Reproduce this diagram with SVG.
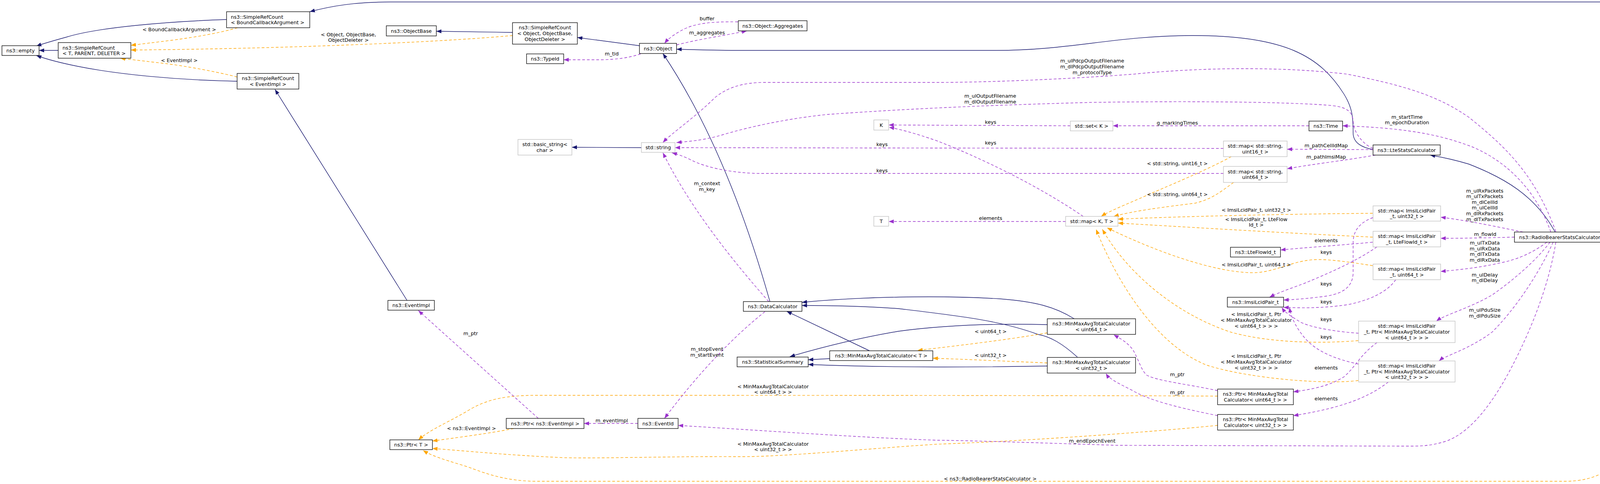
<svg xmlns="http://www.w3.org/2000/svg" width="4703" height="1239" viewBox="0 0 4703 1239">
<defs>
<style>
text{font-family:"DejaVu Sans","Liberation Sans",sans-serif;font-size:12.8px;fill:#000}
.c{text-anchor:middle}
.n rect{fill:#fff;stroke:#000;stroke-width:1.3}
.g rect{fill:#fff;stroke:#bfbfbf;stroke-width:1.3}
.inh{fill:none;stroke:#191970;stroke-width:1.4}
.use{fill:none;stroke:#9a32cd;stroke-width:1.4;stroke-dasharray:7,5}
.tpl{fill:none;stroke:#ffa500;stroke-width:1.4;stroke-dasharray:7,5}
.inh{marker-end:url(#ai)}
.use{marker-end:url(#au)}
.tpl{marker-end:url(#at)}
</style>
<marker id="ai" viewBox="0 0 13 10" refX="13" refY="5" markerWidth="13" markerHeight="10" markerUnits="userSpaceOnUse" orient="auto"><path d="M0,0L13,5L0,10z" fill="#191970"/></marker>
<marker id="au" viewBox="0 0 13 10" refX="13" refY="5" markerWidth="13" markerHeight="10" markerUnits="userSpaceOnUse" orient="auto"><path d="M0,0L13,5L0,10z" fill="#9a32cd"/></marker>
<marker id="at" viewBox="0 0 13 10" refX="13" refY="5" markerWidth="13" markerHeight="10" markerUnits="userSpaceOnUse" orient="auto"><path d="M0,0L13,5L0,10z" fill="#ffa500"/></marker>
</defs>
<rect width="4703" height="1239" fill="#fff"/>
<g id="connectors">
<!-- inheritance -->
<path class="inh" d="M149,129L100,129"/>
<path class="inh" d="M580,50C430,55 250,70 170,95C130,106 110,112 93,118"/>
<path class="inh" d="M607,208C450,205 300,190 200,170C150,160 115,150 93,142"/>
<path class="inh" d="M4583,299C4560,180 4510,5 4305,5L1000,5C910,5 850,15 793,30"/>
<path class="inh" d="M1312,83L1117,80"/>
<path class="inh" d="M1637,117L1478,96"/>
<path class="inh" d="M1642,378L1464,377"/>
<path class="inh" d="M3515,383C3490,378 3464,368 3464,340C3464,300 3462,275 3440,240C3380,145 3290,90 3050,91C2850,92 2740,129 2550,129L1900,129C1820,129 1780,127 1732,126"/>
<path class="inh" d="M3981,594C3930,500 3850,455 3760,420C3720,408 3690,402 3661,397"/>
<path class="inh" d="M1042,769L704,229"/>
<path class="inh" d="M1971,772Q1860,380 1697,137"/>
<path class="inh" d="M2124,918L2069,921"/>
<path class="inh" d="M2226,898L2014,797"/>
<path class="inh" d="M2750,816C2700,785 2650,772 2560,765C2400,755 2200,760 2053,774"/>
<path class="inh" d="M2758,914C2720,880 2690,862 2657,856C2560,820 2450,808 2300,790C2200,783 2120,782 2053,782"/>
<path class="inh" d="M2681,831C2600,829 2450,828 2300,848C2200,865 2100,890 2022,913"/>
<path class="inh" d="M2681,937C2500,940 2300,942 2069,933"/>
<!-- template -->
<path class="tpl" d="M608,71C560,85 500,95 440,103C400,108 360,113 335,116"/>
<path class="tpl" d="M607,197C540,180 450,165 400,160C360,155 330,152 308,149"/>
<path class="tpl" d="M1312,91C1100,110 700,125 335,128"/>
<path class="tpl" d="M2681,852C2580,870 2450,885 2349,897"/>
<path class="tpl" d="M2681,929C2580,925 2480,920 2388,917"/>
<path class="tpl" d="M3152,401C3080,440 2980,480 2936,500C2880,525 2840,540 2819,554"/>
<path class="tpl" d="M3158,467C3120,495 3100,510 3060,520C2980,530 2900,540 2851,554"/>
<path class="tpl" d="M3514,546C3300,548 3050,553 2862,561"/>
<path class="tpl" d="M3514,607C3300,597 3050,582 2862,571"/>
<path class="tpl" d="M3514,680C3460,672 3400,662 3360,665C3300,670 3260,700 3200,698C3100,695 2950,640 2834,583"/>
<path class="tpl" d="M3477,872C3380,880 3250,878 3150,850C3000,800 2880,690 2822,587"/>
<path class="tpl" d="M3477,974C3400,985 3200,970 3090,935C2950,880 2850,700 2806,587"/>
<path class="tpl" d="M3117,1014C2800,1012 1700,1012 1376,1012C1300,1012 1250,1020 1200,1050C1150,1080 1100,1100 1071,1126"/>
<path class="tpl" d="M1315,1097C1250,1110 1170,1120 1107,1129"/>
<path class="tpl" d="M3117,1089C2900,1110 2600,1130 2400,1137C2200,1150 2000,1170 1889,1169C1700,1168 1500,1175 1430,1171C1300,1165 1200,1155 1107,1148"/>
<path class="tpl" d="M4297,627C4295,800 4260,1000 4200,1100C4150,1190 4100,1232 4006,1232L1376,1232C1300,1232 1250,1215 1200,1196C1150,1180 1110,1170 1083,1153"/>
<!-- usage -->
<path class="use" d="M1640,138C1610,148 1580,152 1540,153L1443,153"/>
<path class="use" d="M1889,56C1820,55 1780,60 1750,75C1725,88 1710,100 1701,111"/>
<path class="use" d="M1732,115C1790,100 1850,92 1912,79"/>
<path class="use" d="M3983,593C3930,450 3860,380 3760,300C3680,245 3600,220 3450,190C3300,172 3100,170 2900,190C2700,205 2500,211 2400,211L1958,211C1900,211 1860,225 1830,250C1780,300 1720,340 1697,365"/>
<path class="use" d="M3515,380C3490,370 3465,340 3464,310C3462,280 3440,272 3395,269C3300,262 3100,258 2800,262C2500,270 2300,280 2118,293C2000,305 1900,330 1850,345C1800,360 1760,362 1732,365"/>
<path class="use" d="M3515,383L3295,382"/>
<path class="use" d="M3521,397C3450,410 3360,420 3295,432"/>
<path class="use" d="M3132,380L1728,378"/>
<path class="use" d="M3132,444L1950,444C1880,444 1810,430 1770,410C1750,400 1735,395 1720,391"/>
<path class="use" d="M3351,322L2849,322"/>
<path class="use" d="M2740,322L2275,320"/>
<path class="use" d="M2773,554C2650,470 2500,400 2400,361C2340,340 2300,330 2276,326"/>
<path class="use" d="M2728,567L2275,567"/>
<path class="use" d="M3970,594C3930,480 3850,410 3769,376C3700,350 3620,328 3437,322"/>
<path class="use" d="M3514,620C3430,628 3350,633 3278,640"/>
<path class="use" d="M3515,557C3480,570 3465,590 3464,620L3464,700C3462,740 3430,755 3380,760C3340,765 3310,767 3286,768"/>
<path class="use" d="M3525,632C3470,670 3400,700 3340,725C3300,740 3270,750 3250,761"/>
<path class="use" d="M3573,716C3550,750 3500,770 3450,780C3380,790 3330,788 3286,787"/>
<path class="use" d="M3478,853C3430,850 3360,840 3330,825C3305,810 3290,800 3281,787"/>
<path class="use" d="M3478,932C3420,920 3370,900 3340,865C3315,835 3305,810 3301,787"/>
<path class="use" d="M3525,877C3480,910 3470,940 3440,965C3400,990 3350,998 3311,1003"/>
<path class="use" d="M3554,978C3500,1020 3430,1045 3311,1064"/>
<path class="use" d="M3117,1000C3050,985 2960,975 2935,960C2920,945 2915,920 2900,895C2885,875 2865,865 2851,857"/>
<path class="use" d="M3117,1064C3050,1050 2950,1030 2900,1000C2860,980 2840,970 2831,956"/>
<path class="use" d="M3899,594C3830,580 3760,565 3688,556"/>
<path class="use" d="M3877,607C3800,609 3750,610 3688,610"/>
<path class="use" d="M3960,620C3920,650 3880,665 3845,672C3790,685 3740,690 3688,695"/>
<path class="use" d="M3968,620C3930,670 3870,720 3820,755C3760,790 3700,805 3677,822"/>
<path class="use" d="M3976,620C3940,700 3880,790 3820,850C3760,895 3700,910 3684,924"/>
<path class="use" d="M3983,620C3970,700 3940,800 3880,920C3820,1040 3760,1110 3700,1130C3660,1142 3640,1142 3600,1142L2860,1140C2700,1135 2500,1128 2400,1127C2200,1120 2000,1105 1736,1089"/>
<path class="use" d="M4570,326Q4460,450 4325,587"/>
<path class="use" d="M4200,607L4109,607"/>
<path class="use" d="M1968,772Q1780,560 1697,391"/>
<path class="use" d="M1958,798Q1830,900 1701,1071"/>
<path class="use" d="M1633,1084L1495,1084"/>
<path class="use" d="M1378,1071L1071,795"/>
<!-- labels -->
<g class="c">
<text x="459" y="79.5">&lt; BoundCallbackArgument &gt;</text>
<text x="459" y="158.5">&lt; EventImpl &gt;</text>
<text x="892" y="92.5">&lt; Object, ObjectBase,</text>
<text x="892" y="106.5">ObjectDeleter &gt;</text>
<text x="1810" y="51.5">buffer</text>
<text x="1810" y="87.5">m_aggregates</text>
<text x="1566" y="141.5">m_tid</text>
<text x="1810" y="473.5">m_context</text>
<text x="1810" y="488.5">m_key</text>
<text x="1810" y="897.5">m_stopEvent</text>
<text x="1810" y="912.5">m_startEvent</text>
<text x="1566" y="1080.5">m_eventImpl</text>
<text x="1205" y="857.5">m_ptr</text>
<text x="1207" y="1100.5">&lt; ns3::EventImpl &gt;</text>
<text x="1979" y="993.5">&lt; MinMaxAvgTotalCalculator</text>
<text x="1979" y="1007.5">&lt; uint64_t &gt; &gt;</text>
<text x="1979" y="1140.5">&lt; MinMaxAvgTotalCalculator</text>
<text x="1979" y="1154.5">&lt; uint32_t &gt; &gt;</text>
<text x="2258" y="373.5">keys</text>
<text x="2258" y="440.5">keys</text>
<text x="2536" y="316.5">keys</text>
<text x="2536" y="369.5">keys</text>
<text x="2536" y="562.5">elements</text>
<text x="2536" y="852.5">&lt; uint64_t &gt;</text>
<text x="2536" y="913.5">&lt; uint32_t &gt;</text>
<text x="2535" y="1229.5">&lt; ns3::RadioBearerStatsCalculator &gt;</text>
<text x="2535" y="249.5">m_ulOutputFilename</text>
<text x="2535" y="264.5">m_dlOutputFilename</text>
<text x="2796" y="159.5">m_ulPdcpOutputFilename</text>
<text x="2796" y="174.5">m_dlPdcpOutputFilename</text>
<text x="2796" y="189.5">m_protocolType</text>
<text x="2796" y="1132.5">m_endEpochEvent</text>
<text x="3014" y="318.5">g_markingTimes</text>
<text x="3014" y="422.5">&lt; std::string, uint16_t &gt;</text>
<text x="3014" y="501.5">&lt; std::string, uint64_t &gt;</text>
<text x="3014" y="962.5">m_ptr</text>
<text x="3014" y="1008.5">m_ptr</text>
<text x="3216" y="541.5">&lt; ImsiLcidPair_t, uint32_t &gt;</text>
<text x="3216" y="565.5">&lt; ImsiLcidPair_t, LteFlow</text>
<text x="3216" y="579.5">Id_t &gt;</text>
<text x="3216" y="681.5">&lt; ImsiLcidPair_t, uint64_t &gt;</text>
<text x="3216" y="808.5">&lt; ImsiLcidPair_t, Ptr</text>
<text x="3216" y="823.5">&lt; MinMaxAvgTotalCalculator</text>
<text x="3216" y="838.5">&lt; uint64_t &gt; &gt; &gt;</text>
<text x="3216" y="915.5">&lt; ImsiLcidPair_t, Ptr</text>
<text x="3216" y="930.5">&lt; MinMaxAvgTotalCalculator</text>
<text x="3216" y="945.5">&lt; uint32_t &gt; &gt; &gt;</text>
<text x="3395" y="376.5">m_pathCellIdMap</text>
<text x="3395" y="405.5">m_pathImsiMap</text>
<text x="3395" y="619.5">elements</text>
<text x="3395" y="649.5">keys</text>
<text x="3395" y="730.5">keys</text>
<text x="3395" y="776.5">keys</text>
<text x="3395" y="821.5">keys</text>
<text x="3395" y="866.5">keys</text>
<text x="3395" y="945.5">elements</text>
<text x="3395" y="1024.5">elements</text>
<text x="3602" y="303.5">m_startTime</text>
<text x="3602" y="317.5">m_epochDuration</text>
<text x="3801" y="492.5">m_ulRxPackets</text>
<text x="3801" y="506.5">m_ulTxPackets</text>
<text x="3801" y="521.5">m_dlCellId</text>
<text x="3801" y="535.5">m_ulCellId</text>
<text x="3801" y="550.5">m_dlRxPackets</text>
<text x="3801" y="565.5">m_dlTxPackets</text>
<text x="3802" y="603.5">m_flowId</text>
<text x="3801" y="625.5">m_ulTxData</text>
<text x="3801" y="640.5">m_ulRxData</text>
<text x="3801" y="654.5">m_dlTxData</text>
<text x="3801" y="669.5">m_dlRxData</text>
<text x="3801" y="707.5">m_ulDelay</text>
<text x="3801" y="721.5">m_dlDelay</text>
<text x="3801" y="797.5">m_ulPduSize</text>
<text x="3801" y="812.5">m_dlPduSize</text>
<text x="4157" y="603.5">m_ptr</text>
<text x="4441" y="444.5">stats</text>
</g>
</g>
<g id="nodes">
<g id="n-empty" class="n"><rect x="5" y="117" width="95" height="25"/><text class="c" x="52.5" y="134">ns3::empty</text></g>
<g id="n-srctpd" class="n"><rect x="149" y="109" width="186" height="40"/><text x="160" y="126.6">ns3::SimpleRefCount</text><text x="160" y="141.3">&lt; T, PARENT, DELETER &gt;</text></g>
<g id="n-srcbca" class="n"><rect x="580" y="30" width="213" height="41"/><text x="591" y="47.7">ns3::SimpleRefCount</text><text x="591" y="62.4">&lt; BoundCallbackArgument &gt;</text></g>
<g id="n-srcei" class="n"><rect x="607" y="188" width="158" height="40"/><text class="c" x="686" y="205.1">ns3::SimpleRefCount</text><text class="c" x="686" y="219.9">&lt; EventImpl &gt;</text></g>
<g id="n-objectbase" class="n"><rect x="989" y="66" width="128" height="26"/><text class="c" x="1053" y="83.5">ns3::ObjectBase</text></g>
<g id="n-srcobj" class="n"><rect x="1312" y="58" width="166" height="55"/><text class="c" x="1395" y="75.3">ns3::SimpleRefCount</text><text class="c" x="1395" y="90">&lt; Object, ObjectBase,</text><text class="c" x="1395" y="104.7">ObjectDeleter &gt;</text></g>
<g id="n-typeid" class="n"><rect x="1348" y="138" width="95" height="25"/><text class="c" x="1395.5" y="155">ns3::TypeId</text></g>
<g id="n-object" class="n"><rect x="1637" y="111" width="95" height="26"/><text class="c" x="1684.5" y="128.5">ns3::Object</text></g>
<g id="n-aggregates" class="n"><rect x="1890" y="53" width="176" height="26"/><text class="c" x="1978" y="70.5">ns3::Object::Aggregates</text></g>
<g id="n-basicstring" class="g"><rect x="1326" y="357" width="138" height="40"/><text class="c" x="1395" y="374.1">std::basic_string&lt;</text><text class="c" x="1395" y="388.9">char &gt;</text></g>
<g id="n-string" class="g"><rect x="1642" y="365" width="86" height="25"/><text class="c" x="1685" y="382">std::string</text></g>
<g id="n-k" class="g"><rect x="2237" y="307" width="38" height="26"/><text class="c" x="2256" y="324.5">K</text></g>
<g id="n-t" class="g"><rect x="2237" y="554" width="38" height="25"/><text class="c" x="2256" y="571">T</text></g>
<g id="n-set" class="g"><rect x="2740" y="310" width="109" height="25"/><text class="c" x="2794.5" y="327">std::set&lt; K &gt;</text></g>
<g id="n-time" class="n"><rect x="3351" y="310" width="86" height="25"/><text class="c" x="3394" y="327">ns3::Time</text></g>
<g id="n-map16" class="g"><rect x="3132" y="361" width="163" height="40"/><text class="c" x="3213.5" y="378.1">std::map&lt; std::string,</text><text class="c" x="3213.5" y="392.9">uint16_t &gt;</text></g>
<g id="n-map64s" class="g"><rect x="3132" y="426" width="163" height="41"/><text class="c" x="3213.5" y="443.6">std::map&lt; std::string,</text><text class="c" x="3213.5" y="458.4">uint64_t &gt;</text></g>
<g id="n-ltestats" class="n"><rect x="3515" y="371" width="172" height="26"/><text class="c" x="3601" y="388.5">ns3::LteStatsCalculator</text></g>
<g id="n-mapkt" class="g"><rect x="2728" y="554" width="134" height="25"/><text class="c" x="2795" y="571">std::map&lt; K, T &gt;</text></g>
<g id="n-mapi32" class="g"><rect x="3515" y="527" width="173" height="39"/><text class="c" x="3601.5" y="543.6">std::map&lt; ImsiLcidPair</text><text class="c" x="3601.5" y="558.4">_t, uint32_t &gt;</text></g>
<g id="n-mapiflow" class="g"><rect x="3515" y="592" width="173" height="40"/><text class="c" x="3601.5" y="609.1">std::map&lt; ImsiLcidPair</text><text class="c" x="3601.5" y="623.9">_t, LteFlowId_t &gt;</text></g>
<g id="n-lteflowid" class="n"><rect x="3150" y="633" width="128" height="25"/><text class="c" x="3214" y="650">ns3::LteFlowId_t</text></g>
<g id="n-mapi64" class="g"><rect x="3515" y="676" width="173" height="40"/><text class="c" x="3601.5" y="693.1">std::map&lt; ImsiLcidPair</text><text class="c" x="3601.5" y="707.9">_t, uint64_t &gt;</text></g>
<g id="n-imsilcidpair" class="n"><rect x="3142" y="761" width="144" height="25"/><text class="c" x="3214" y="778">ns3::ImsiLcidPair_t</text></g>
<g id="n-mapp64" class="g"><rect x="3478" y="822" width="247" height="55"/><text class="c" x="3601.5" y="839.3">std::map&lt; ImsiLcidPair</text><text class="c" x="3601.5" y="854">_t, Ptr&lt; MinMaxAvgTotalCalculator</text><text class="c" x="3601.5" y="868.7">&lt; uint64_t &gt; &gt; &gt;</text></g>
<g id="n-mapp32" class="g"><rect x="3478" y="924" width="247" height="54"/><text class="c" x="3601.5" y="940.8">std::map&lt; ImsiLcidPair</text><text class="c" x="3601.5" y="955.5">_t, Ptr&lt; MinMaxAvgTotalCalculator</text><text class="c" x="3601.5" y="970.2">&lt; uint32_t &gt; &gt; &gt;</text></g>
<g id="n-rbsc" class="n"><rect x="3877" y="594" width="232" height="26"/><text class="c" x="3993" y="611.5">ns3::RadioBearerStatsCalculator</text></g>
<g id="n-ptrrbsc" class="n"><rect x="4200" y="587" width="197" height="40"/><text class="c" x="4298.5" y="604.1">ns3::Ptr&lt; ns3::RadioBearer</text><text class="c" x="4298.5" y="618.9">StatsCalculator &gt;</text></g>
<g id="n-bca" class="n"><rect x="4483" y="299" width="214" height="26" style="fill:#bfbfbf"/><text class="c" x="4590" y="316.5">ns3::BoundCallbackArgument</text></g>
<g id="n-eventimpl" class="n"><rect x="993" y="769" width="119" height="25"/><text class="c" x="1052.5" y="786">ns3::EventImpl</text></g>
<g id="n-ptrt" class="n"><rect x="998" y="1126" width="109" height="25"/><text class="c" x="1052.5" y="1143">ns3::Ptr&lt; T &gt;</text></g>
<g id="n-datacalc" class="n"><rect x="1903" y="772" width="150" height="25"/><text class="c" x="1978" y="789">ns3::DataCalculator</text></g>
<g id="n-statsum" class="n"><rect x="1887" y="914" width="182" height="25"/><text class="c" x="1978" y="931">ns3::StatisticalSummary</text></g>
<g id="n-minmaxt" class="n"><rect x="2124" y="898" width="264" height="25"/><text class="c" x="2256" y="915">ns3::MinMaxAvgTotalCalculator&lt; T &gt;</text></g>
<g id="n-ptrei" class="n"><rect x="1296" y="1071" width="199" height="26"/><text class="c" x="1395.5" y="1088.5">ns3::Ptr&lt; ns3::EventImpl &gt;</text></g>
<g id="n-eventid" class="n"><rect x="1633" y="1071" width="103" height="26"/><text class="c" x="1684.5" y="1088.5">ns3::EventId</text></g>
<g id="n-minmax64" class="n"><rect x="2681" y="816" width="226" height="40"/><text class="c" x="2794" y="833.1">ns3::MinMaxAvgTotalCalculator</text><text class="c" x="2794" y="847.9">&lt; uint64_t &gt;</text></g>
<g id="n-minmax32" class="n"><rect x="2681" y="915" width="226" height="40"/><text class="c" x="2794" y="932.1">ns3::MinMaxAvgTotalCalculator</text><text class="c" x="2794" y="946.9">&lt; uint32_t &gt;</text></g>
<g id="n-ptr64" class="n"><rect x="3117" y="996" width="194" height="40"/><text class="c" x="3214" y="1013.1">ns3::Ptr&lt; MinMaxAvgTotal</text><text class="c" x="3214" y="1027.9">Calculator&lt; uint64_t &gt; &gt;</text></g>
<g id="n-ptr32" class="n"><rect x="3117" y="1061" width="194" height="40"/><text class="c" x="3214" y="1078.1">ns3::Ptr&lt; MinMaxAvgTotal</text><text class="c" x="3214" y="1092.9">Calculator&lt; uint32_t &gt; &gt;</text></g>
</g>
</svg>
